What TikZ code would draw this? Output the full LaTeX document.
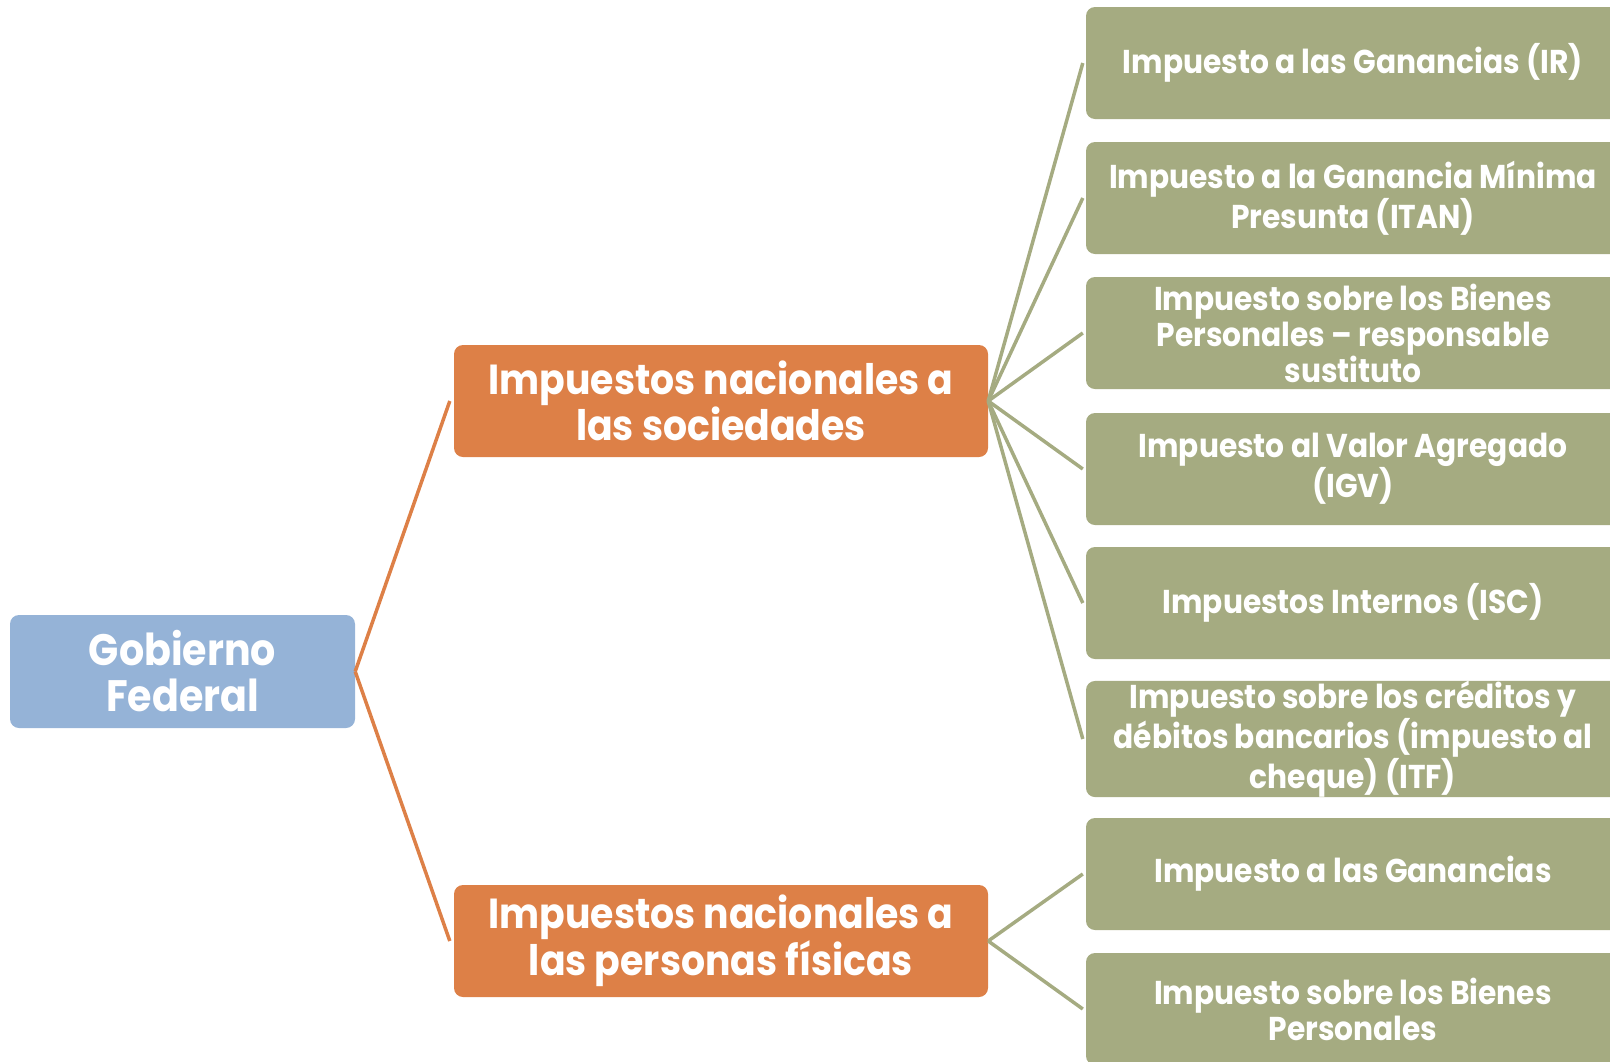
\documentclass[tikz,border=0pt]{standalone}
\usepackage{fontspec}
\setmainfont{Poppins}[FakeStretch=0.9]
\definecolor{cblue}{HTML}{95B3D7}
\definecolor{corange}{HTML}{DD8047}
\definecolor{cgreen}{HTML}{A5AB81}
\begin{document}
\begin{tikzpicture}[x=1pt,y=-1pt,
  basebox/.style={rounded corners=9pt, text=white, align=center, inner sep=0pt, font=\bfseries},
  rootbox/.style={basebox, fill=cblue, minimum width=345pt, minimum height=113pt, font=\bfseries\fontsize{44}{46}\selectfont},
  midbox/.style={basebox, fill=corange, minimum width=534pt, minimum height=112pt, font=\bfseries\fontsize{42}{44}\selectfont},
  leafbox/.style={basebox, fill=cgreen, minimum width=534pt, minimum height=112pt, font=\bfseries\fontsize{33}{36}\selectfont},
  olink/.style={draw=corange, line width=3.5pt},
  glink/.style={draw=cgreen, line width=3.5pt}]
\clip (0,0) rectangle (1610,1061);
\node[rootbox] (gob) at (182.5,671.5) {Gobierno\\Federal};
\node[midbox] (soc) at (721,401) {Impuestos nacionales a\\las sociedades};
\node[midbox] (per) at (721,941) {Impuestos nacionales a\\las personas físicas};
\node[leafbox] (l1) at (1353,63) {Impuesto a las Ganancias (IR)};
\node[leafbox] (l2) at (1353,198) {Impuesto a la Ganancia Mínima\\Presunta (ITAN)};
\node[leafbox] (l3) at (1353,333) {Impuesto sobre los Bienes\\Personales -- responsable\\sustituto};
\node[leafbox] (l4) at (1353,469) {Impuesto al Valor Agregado\\(IGV)};
\node[leafbox] (l5) at (1353,603) {Impuestos Internos (ISC)};
\node[leafbox] (l6) at (1353,739) {Impuesto sobre los créditos y\\débitos bancarios (impuesto al\\cheque) (ITF)};
\node[leafbox] (l7) at (1353,874) {Impuesto a las Ganancias};
\node[leafbox] (l8) at (1353,1009) {Impuesto sobre los Bienes\\Personales};
\draw[olink] (gob.east) -- ([xshift=-4pt]soc.west);
\draw[olink] (gob.east) -- ([xshift=-4pt]per.west);
\foreach \n in {l1,l2,l3,l4,l5,l6} \draw[glink] (soc.east) -- ([xshift=-3pt]\n.west);
\foreach \n in {l7,l8} \draw[glink] (per.east) -- ([xshift=-3pt]\n.west);
\end{tikzpicture}
\end{document}
